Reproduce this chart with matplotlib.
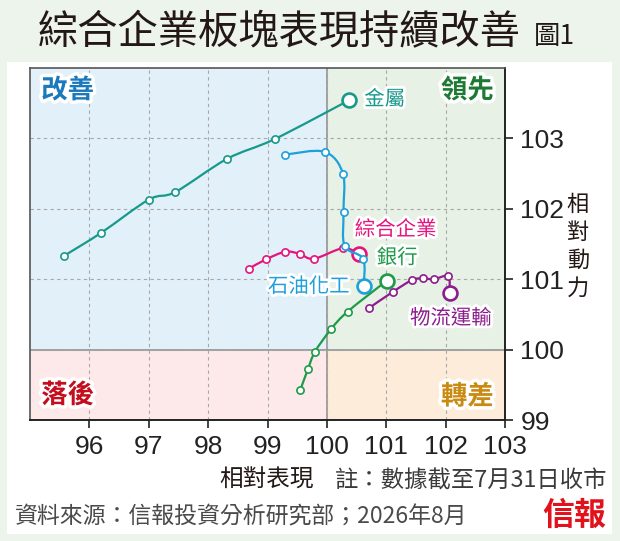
import matplotlib
matplotlib.use('Agg')
import matplotlib.pyplot as plt
from matplotlib.path import Path
from matplotlib.patches import PathPatch, Rectangle
import matplotlib.patheffects as pe
import numpy as np

plt.rcParams['font.family'] = ['Noto Sans CJK TC', 'DejaVu Sans']

# ---- data ----
x_ticks = [96, 97, 98, 99, 100, 101, 102, 103]
y_ticks = [99, 100, 101, 102, 103]

metal_x = [95.57, 96.20, 97.00, 97.45, 98.32, 99.12, 100.37]
metal_y = [101.33, 101.66, 102.13, 102.24, 102.71, 102.99, 103.54]
comp_x = [98.69, 98.97, 99.30, 99.54, 99.78, 100.27, 100.54]
comp_y = [101.15, 101.28, 101.39, 101.36, 101.29, 101.44, 101.36]
petro_x = [99.30, 99.96, 100.27, 100.28, 100.30, 100.61, 100.62]
petro_y = [102.77, 102.81, 102.50, 101.95, 101.47, 101.29, 100.90]
bank_x = [99.55, 99.68, 99.80, 100.07, 100.35, 101.01]
bank_y = [99.42, 99.72, 99.97, 100.29, 100.54, 100.98]
logi_x = [100.71, 101.11, 101.44, 101.62, 101.80, 102.04, 102.07]
logi_y = [100.59, 100.82, 100.99, 101.01, 101.00, 101.04, 100.81]

series_names = ['金屬', '綜合企業', '石油化工', '銀行', '物流運輸']
series_x = [metal_x, comp_x, petro_x, bank_x, logi_x]
series_y = [metal_y, comp_y, petro_y, bank_y, logi_y]
series_colors = ['#17998b', '#e5147d', '#1ea0dc', '#1e9b48', '#8c1d8c']
label_pos = [(100.63, 103.55, 'left'), (100.47, 101.70, 'left'),
             (100.38, 100.89, 'right'), (100.84, 101.30, 'left'),
             (101.40, 100.44, 'left')]

quad_names = ['改善', '領先', '落後', '轉差']
quad_colors = ['#1a78bc', '#1d7a33', '#c40d1d', '#c98a12']
quad_pos = [(95.19, 103.68, 'left'), (102.81, 103.68, 'right'),
            (95.19, 99.35, 'left'), (102.81, 99.33, 'right')]
quad_bg = ['#e2f0f9', '#e8f1e6', '#fde9e9', '#fcecd9']

W, H = 620, 541
fig = plt.figure(figsize=(W / 100, H / 100), dpi=100)
fig.patch.set_facecolor('#ecf4eb')
fig.patches.append(Rectangle((7 / W, 1 - 534 / H), 605 / W, 472 / H,
                             transform=fig.transFigure, facecolor='white',
                             edgecolor='none', zorder=-5))

ax = fig.add_axes([30 / W, 1 - 420 / H, 475 / W, 352 / H])
ax.set_zorder(2)
ax.set_xlim(95, 103)
ax.set_ylim(99, 104)

# quadrant backgrounds
for (x0, y0, w, h), c in zip([(95, 100, 5, 4), (100, 100, 3, 4),
                              (95, 99, 5, 1), (100, 99, 3, 1)], quad_bg):
    ax.add_patch(Rectangle((x0, y0), w, h, facecolor=c, edgecolor='none', zorder=0))

ax.set_xticks(x_ticks)
ax.set_yticks(y_ticks)
ax.grid(True, ls=(0, (3, 3)), color='#a8a8a8', lw=0.8, zorder=1)
ax.axvline(100, color='#8a8a8a', lw=1.1, zorder=1.5)
ax.axhline(100, color='#8a8a8a', lw=1.1, zorder=1.5)

ax.yaxis.tick_right()
tick_font = ['Liberation Sans Narrow', 'Liberation Sans', 'DejaVu Sans']
ax.tick_params(axis='both', direction='out', length=6, width=1.2,
               colors='#222222', labelsize=19, pad=5)
for lab in ax.get_xticklabels() + ax.get_yticklabels():
    lab.set_fontfamily(tick_font)
for s in ['top', 'left']:
    ax.spines[s].set_color('#555555')
    ax.spines[s].set_linewidth(1.2)
for s in ['bottom', 'right']:
    ax.spines[s].set_color('#222222')
    ax.spines[s].set_linewidth(1.4)


def smooth_path(xs, ys):
    P = np.column_stack([xs, ys])
    n = len(P)
    verts = [P[0]]
    codes = [Path.MOVETO]
    for i in range(n - 1):
        p0 = P[i - 1] if i > 0 else P[i]
        p1 = P[i]
        p2 = P[i + 1]
        p3 = P[i + 2] if i + 2 < n else P[i + 1]
        verts += [p1 + (p2 - p0) / 6, p2 - (p3 - p1) / 6, p2]
        codes += [Path.CURVE4] * 3
    return Path(verts, codes)


stroke = [pe.withStroke(linewidth=4, foreground='white')]
for k, (name, xs, ys, c, lp) in enumerate(zip(series_names, series_x, series_y,
                                              series_colors, label_pos)):
    z = 3 + k
    ax.add_patch(PathPatch(smooth_path(xs, ys), facecolor='none', edgecolor=c,
                           lw=1.6, zorder=z))
    ax.plot(xs[:-1], ys[:-1], ls='none', marker='o', ms=5.2, mfc='white',
            mec=c, mew=1.2, zorder=z + 0.1)
    ax.plot(xs[-1:], ys[-1:], ls='none', marker='o', ms=10, mfc='white',
            mec=c, mew=1.9, zorder=z + 0.2)
    ax.text(lp[0], lp[1], name, color=c, fontsize=14.7, ha=lp[2], va='center',
            path_effects=stroke, zorder=10)

for name, c, qp in zip(quad_names, quad_colors, quad_pos):
    ax.text(qp[0], qp[1], name, color=c, fontsize=19, fontweight='bold',
            ha=qp[2], va='center', zorder=10,
            path_effects=[pe.withStroke(linewidth=5, foreground='white')])

# titles and texts
fig.text(38 / W, 1 - 33 / H, '綜合企業板塊表現持續改善', fontsize=29, color='#231815',
         ha='left', va='center', fontweight='medium')
fig.text(534 / W, 1 - 36 / H, '圖1', fontsize=19, color='#231815', ha='left',
         va='center')

for i, ch in enumerate('相對動力'):
    fig.text(578 / W, 1 - (204 + 28 * i) / H, ch, fontsize=16, color='#231815',
             ha='center', va='center')

fig.text(314 / W, 1 - 480 / H, '相對表現', fontsize=17, color='#231815',
         ha='right', va='center')
fig.text(607 / W, 1 - 481 / H, '註：數據截至7月31日收市', fontsize=16.8,
         color='#3a3a3a', ha='right', va='center')
fig.text(15 / W, 1 - 517 / H, '資料來源：信報投資分析研究部；2026年8月', fontsize=16.5,
         color='#4a4a4a', ha='left', va='center')
fig.text(606 / W, 1 - 516 / H, '信報', fontsize=23, color='#e1121b',
         fontweight='bold', ha='right', va='center', style='italic')

fig.savefig('out.png', dpi=100, facecolor=fig.get_facecolor())
